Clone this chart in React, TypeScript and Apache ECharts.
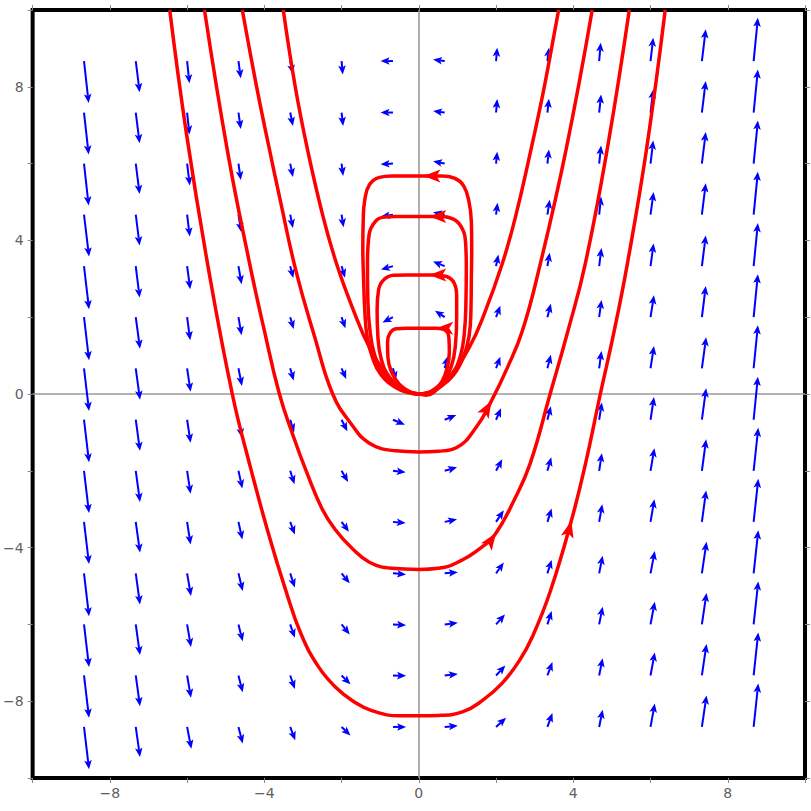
import React, { useEffect, useRef } from 'react';
import * as echarts from 'echarts';

// Grid points where the direction-field arrows start (tails)
const GRID_X = [-8.67, -7.33, -6, -4.67, -3.33, -2, -0.67, 0.67, 2, 3.33, 4.67, 6, 7.33, 8.67];
const GRID_Y = [8.67, 7.33, 6, 4.67, 3.33, 2, 0.67, -0.67, -2, -3.33, -4.67, -6, -7.33, -8.67];

// Arrow components (data units), one row per GRID_Y value, one column per GRID_X value
const ARROW_U = [
  [0.12, 0.10, 0.06, 0.06, 0.07, 0.03, -0.32, -0.30, 0.03, 0.04, 0.04, 0.07, 0.10, 0.11],
  [0.12, 0.10, 0.06, 0.06, 0.07, 0.04, -0.32, -0.30, 0.03, 0.04, 0.05, 0.07, 0.10, 0.11],
  [0.12, 0.10, 0.07, 0.06, 0.07, 0.04, -0.32, -0.30, 0.03, 0.04, 0.05, 0.07, 0.10, 0.11],
  [0.13, 0.10, 0.07, 0.07, 0.07, 0.05, -0.31, -0.30, 0.04, 0.06, 0.05, 0.08, 0.10, 0.11],
  [0.13, 0.10, 0.08, 0.08, 0.08, 0.09, -0.31, -0.30, 0.06, 0.06, 0.06, 0.08, 0.10, 0.11],
  [0.13, 0.11, 0.08, 0.08, 0.09, 0.10, -0.27, -0.25, 0.11, 0.09, 0.06, 0.09, 0.10, 0.11],
  [0.13, 0.11, 0.09, 0.09, 0.09, 0.12, 0.08, 0.08, 0.11, 0.09, 0.06, 0.09, 0.11, 0.11],
  [0.13, 0.11, 0.09, 0.09, 0.10, 0.15, 0.31, 0.30, 0.13, 0.09, 0.07, 0.09, 0.11, 0.11],
  [0.13, 0.11, 0.09, 0.10, 0.11, 0.17, 0.33, 0.32, 0.16, 0.10, 0.07, 0.10, 0.11, 0.12],
  [0.13, 0.11, 0.09, 0.10, 0.12, 0.19, 0.33, 0.32, 0.20, 0.11, 0.08, 0.10, 0.11, 0.12],
  [0.13, 0.11, 0.10, 0.11, 0.12, 0.21, 0.34, 0.34, 0.20, 0.11, 0.09, 0.11, 0.12, 0.12],
  [0.13, 0.11, 0.10, 0.11, 0.12, 0.21, 0.34, 0.34, 0.23, 0.11, 0.09, 0.11, 0.12, 0.12],
  [0.13, 0.11, 0.10, 0.11, 0.12, 0.23, 0.34, 0.34, 0.24, 0.13, 0.09, 0.11, 0.12, 0.12],
  [0.13, 0.11, 0.11, 0.11, 0.13, 0.23, 0.34, 0.34, 0.26, 0.13, 0.09, 0.11, 0.12, 0.12],
];
const ARROW_V = [
  [-1.09, -0.81, -0.58, -0.45, -0.33, -0.35, 0.00, 0.04, 0.35, 0.35, 0.48, 0.61, 0.83, 1.13],
  [-1.09, -0.80, -0.57, -0.43, -0.35, -0.35, 0.00, 0.04, 0.35, 0.36, 0.47, 0.60, 0.82, 1.12],
  [-1.09, -0.79, -0.57, -0.43, -0.35, -0.32, -0.02, 0.06, 0.31, 0.37, 0.47, 0.60, 0.82, 1.12],
  [-1.09, -0.80, -0.57, -0.45, -0.35, -0.33, -0.05, 0.06, 0.31, 0.39, 0.47, 0.59, 0.82, 1.12],
  [-1.12, -0.82, -0.60, -0.47, -0.31, -0.30, -0.09, 0.12, 0.30, 0.35, 0.47, 0.59, 0.80, 1.12],
  [-1.12, -0.82, -0.60, -0.47, -0.31, -0.29, -0.14, 0.17, 0.30, 0.35, 0.45, 0.57, 0.81, 1.12],
  [-1.11, -0.82, -0.61, -0.46, -0.32, -0.28, -0.31, 0.31, 0.30, 0.35, 0.45, 0.58, 0.81, 1.12],
  [-1.11, -0.81, -0.60, -0.46, -0.33, -0.30, -0.13, 0.12, 0.30, 0.35, 0.45, 0.59, 0.82, 1.12],
  [-1.10, -0.81, -0.60, -0.46, -0.35, -0.29, -0.04, 0.09, 0.30, 0.35, 0.46, 0.59, 0.82, 1.12],
  [-1.10, -0.80, -0.59, -0.46, -0.33, -0.26, -0.03, 0.07, 0.30, 0.35, 0.46, 0.59, 0.82, 1.12],
  [-1.12, -0.81, -0.59, -0.46, -0.37, -0.26, -0.03, 0.03, 0.28, 0.35, 0.46, 0.58, 0.82, 1.12],
  [-1.11, -0.80, -0.59, -0.44, -0.35, -0.26, -0.02, 0.04, 0.26, 0.35, 0.46, 0.59, 0.82, 1.12],
  [-1.10, -0.80, -0.58, -0.44, -0.35, -0.23, -0.01, 0.04, 0.26, 0.35, 0.45, 0.60, 0.82, 1.12],
  [-1.10, -0.78, -0.57, -0.43, -0.35, -0.22, 0.00, 0.03, 0.24, 0.36, 0.45, 0.61, 0.82, 1.13],
];

// Trajectories (red), points
const TRAJ_OUTER = [
  [-6.45, 10], [-6.02, 6.8], [-5.47, 3.39], [-4.83, 0], [-4.35, -1.95], [-3.87, -3.72], [-3.45, -5.1],
  [-3.05, -6.25], [-2.6, -7.1], [-2.14, -7.65], [-1.7, -8.0], [-1.2, -8.25], [-0.5, -8.38], [0.5, -8.37],
  [1.13, -8.28], [1.65, -7.98], [2.16, -7.53], [2.6, -6.95], [2.95, -6.3], [3.4, -5.15], [3.95, -3.3],
  [4.32, -1.8], [4.7, 0], [5.05, 1.6], [5.4, 3.39], [5.9, 6.4], [6.38, 10],
];
const TRAJ_SECOND = [
  [-5.55, 10], [-4.95, 6.3], [-4.38, 3.39], [-4.0, 1.65], [-3.61, 0], [-3.25, -1.1], [-2.9, -2.05], [-2.5, -3.0],
  [-2.15, -3.55], [-1.75, -4.0], [-1.28, -4.38], [-0.7, -4.54], [0, -4.57], [0.5, -4.54], [0.97, -4.4],
  [1.64, -3.98], [2.0, -3.62], [2.45, -2.8], [2.88, -1.82], [3.4, 0], [3.85, 1.6], [4.31, 3.39], [4.9, 6.5],
  [5.45, 10],
];
const TRAJ_THIRD = [
  [-4.57, 10], [-4.2, 8.0], [-3.87, 6.38], [-3.6, 5.1], [-3.18, 3.2], [-2.7, 1.5], [-2.23, 0], [-1.75, -0.78],
  [-1.28, -1.28], [-0.6, -1.48], [0, -1.51], [0.5, -1.49], [0.97, -1.4], [1.49, -0.86], [1.88, -0.18], [2.3, 0.7],
  [2.68, 1.64], [3.1, 3.2], [3.8, 6.3], [4.49, 10],
];
const TRAJ_SEPARATRIX = [
  [-3.51, 10], [-3.2, 8.0], [-2.89, 6.4], [-2.5, 4.7], [-2.13, 3.39], [-1.7, 2.2], [-1.28, 1.22], [-0.8, 0.48],
  [-0.4, 0.12], [0, 0], [0.2, -0.03], [0.45, 0.1], [0.8, 0.45], [1.31, 1.22], [1.7, 2.1], [2.16, 3.39], [2.5, 4.6],
  [2.89, 6.3], [3.2, 7.75], [3.4, 8.8], [3.62, 10],
];
const LOOP_1 = [
  [0, 0], [0.25, 0.03], [0.55, 0.18], [0.9, 0.5], [1.15, 0.95], [1.3, 1.5], [1.35, 2.2], [1.36, 3.0], [1.37, 3.8],
  [1.36, 4.5], [1.3, 5.0], [1.16, 5.42], [0.92, 5.62], [0.6, 5.68], [0, 5.68], [-0.7, 5.68], [-1.02, 5.64],
  [-1.28, 5.45], [-1.4, 5.05], [-1.44, 4.5], [-1.45, 3.8], [-1.43, 3.0], [-1.4, 2.2], [-1.34, 1.5], [-1.2, 0.95],
  [-0.98, 0.5], [-0.6, 0.17], [-0.25, 0.03], [0, 0],
];
const LOOP_2 = [
  [0, 0], [0.25, 0.03], [0.55, 0.2], [0.88, 0.55], [1.08, 1.0], [1.18, 1.6], [1.22, 2.4], [1.23, 3.3], [1.21, 3.95],
  [1.1, 4.35], [0.88, 4.56], [0.55, 4.62], [0, 4.62], [-0.6, 4.62], [-0.94, 4.6], [-1.18, 4.42], [-1.3, 4.05],
  [-1.33, 3.4], [-1.32, 2.5], [-1.27, 1.7], [-1.14, 1.0], [-0.9, 0.52], [-0.5, 0.16], [-0.2, 0.03], [0, 0],
];
const LOOP_3 = [
  [0, 0], [0.3, 0.06], [0.6, 0.3], [0.84, 0.72], [0.95, 1.3], [0.98, 2.0], [0.98, 2.55], [0.92, 2.88], [0.72, 3.06],
  [0.4, 3.1], [-0.3, 3.1], [-0.65, 3.09], [-0.9, 2.98], [-1.04, 2.72], [-1.08, 2.2], [-1.06, 1.5], [-0.97, 0.9],
  [-0.75, 0.42], [-0.4, 0.12], [0, 0],
];
const LOOP_4 = [
  [0, 0], [0.35, 0.08], [0.6, 0.33], [0.75, 0.75], [0.79, 1.1], [0.78, 1.45], [0.7, 1.65], [0.45, 1.71], [-0.3, 1.71],
  [-0.59, 1.7], [-0.75, 1.58], [-0.81, 1.35], [-0.8, 0.95], [-0.71, 0.58], [-0.5, 0.25], [-0.2, 0.04], [0, 0],
];
const TRAJECTORIES = [TRAJ_OUTER, TRAJ_SECOND, TRAJ_THIRD, TRAJ_SEPARATRIX, LOOP_1, LOOP_2, LOOP_3, LOOP_4];

// Red arrowheads on trajectories: [tipX, tipY, dirX, dirY]
const RED_ARROWS = [
  [0.12, 5.68, -1, 0],
  [0.27, 4.62, -1, 0],
  [0.27, 3.1, -1, 0],
  [0.45, 1.71, -1, 0],
  [1.88, -0.18, 0.4, 0.7],
  [2.0, -3.62, 0.57, 0.82],
  [3.95, -3.3, 0.25, 1],
];

const TICK_VALUES = [-8, -4, 0, 4, 8];
const TICK_LABELS = ['\u22128', '\u22124', '0', '4', '8'];

function headPoints(tip: number[], ux: number, uy: number, len: number, half: number, neck: number) {
  const px = -uy;
  const py = ux;
  const b1 = [tip[0] - ux * len + px * half, tip[1] - uy * len + py * half];
  const b2 = [tip[0] - ux * len - px * half, tip[1] - uy * len - py * half];
  const n = [tip[0] - ux * neck, tip[1] - uy * neck];
  return { pts: [tip, b1, n, b2], neck: n };
}

const fmt = (v: number) => {
  const r = Math.round(v);
  const i = TICK_VALUES.indexOf(r);
  return i >= 0 && Math.abs(v - r) < 1e-6 ? TICK_LABELS[i] : '';
};

function axis(kind: 'x' | 'y', position: string, labels: boolean) {
  return {
    type: 'value',
    position,
    min: -10,
    max: 10,
    interval: 2,
    axisLine: { show: false, onZero: false },
    splitLine: { show: false },
    axisTick: { show: true, inside: false, length: 5, lineStyle: { color: '#8a8a8a', width: 1 } },
    axisLabel: labels
      ? {
          show: true,
          color: '#606060',
          fontSize: 14,
          fontFamily: 'DejaVu Sans',
          margin: kind === 'x' ? 8 : 9,
          formatter: fmt,
          showMinLabel: true,
          showMaxLabel: true,
        }
      : { show: false },
  };
}

export default function App() {
  const ref = useRef<HTMLDivElement>(null);
  useEffect(() => {
    const chart = echarts.init(ref.current!, null, { renderer: 'svg' });
    const field: number[][] = [];
    GRID_Y.forEach((gy, j) => {
      GRID_X.forEach((gx, k) => {
        field.push([gx, gy, ARROW_U[j][k], ARROW_V[j][k]]);
      });
    });

    const series: any[] = [];
    series.push({
      type: 'custom',
      coordinateSystem: 'cartesian2d',
      data: field,
      encode: { x: 0, y: 1 },
      silent: true,
      z: 3,
      renderItem: (_p: any, api: any) => {
        const x = api.value(0), y = api.value(1), u = api.value(2), v = api.value(3);
        const p0 = api.coord([x, y]);
        const p1 = api.coord([x + u, y + v]);
        const dx = p1[0] - p0[0], dy = p1[1] - p0[1];
        const L = Math.hypot(dx, dy) || 1;
        const ux = dx / L, uy = dy / L;
        const h = headPoints(p1, ux, uy, 9, 3.8, 7);
        return {
          type: 'group',
          children: [
            {
              type: 'line',
              shape: { x1: p0[0], y1: p0[1], x2: h.neck[0], y2: h.neck[1] },
              style: { stroke: '#0000ff', lineWidth: 2 },
            },
            { type: 'polygon', shape: { points: h.pts }, style: { fill: '#0000ff' } },
          ],
        };
      },
      markLine: {
        silent: true,
        z: 1,
        symbol: ['none', 'none'],
        label: { show: false },
        lineStyle: { color: '#9a9a9a', width: 1.6, type: 'solid' },
        data: [{ xAxis: 0 }, { yAxis: 0 }],
      },
    });

    TRAJECTORIES.forEach((pts) => {
      series.push({
        type: 'line',
        data: pts,
        showSymbol: false,
        smooth: 0.45,
        silent: true,
        z: 4,
        lineStyle: { color: '#ff0000', width: 3.5 },
      });
    });

    series.push({
      type: 'custom',
      coordinateSystem: 'cartesian2d',
      data: RED_ARROWS,
      encode: { x: 0, y: 1 },
      silent: true,
      z: 5,
      renderItem: (_p: any, api: any) => {
        const x = api.value(0), y = api.value(1), dxd = api.value(2), dyd = api.value(3);
        const tip = api.coord([x, y]);
        const back = api.coord([x - dxd * 0.3, y - dyd * 0.3]);
        const dx = tip[0] - back[0], dy = tip[1] - back[1];
        const L = Math.hypot(dx, dy) || 1;
        const h = headPoints(tip, dx / L, dy / L, 17, 6.5, 13);
        return { type: 'polygon', shape: { points: h.pts }, style: { fill: '#ff0000' } };
      },
    });

    chart.setOption({
      animation: false,
      backgroundColor: '#ffffff',
      grid: {
        left: 32,
        right: 6,
        top: 10,
        bottom: 33,
        show: true,
        borderColor: '#000000',
        borderWidth: 4,
        backgroundColor: '#ffffff',
      },
      xAxis: [axis('x', 'bottom', true), axis('x', 'top', false)],
      yAxis: [axis('y', 'left', true), axis('y', 'right', false)],
      series,
    });
    return () => chart.dispose();
  }, []);
  return (
    <div
      ref={ref}
      style={{ position: 'fixed', left: 0, top: 0, width: 811, height: 811, background: '#fff' }}
    />
  );
}
